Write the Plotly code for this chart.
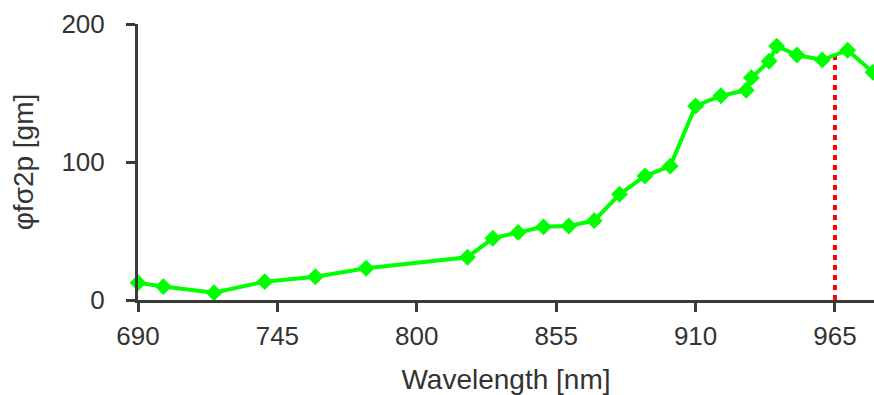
import plotly.graph_objects as go

wavelength = [690, 700, 720, 740, 760, 780, 820, 830, 840, 850, 860, 870, 880, 890, 900,
              910, 920, 930, 932, 939, 942, 950, 960, 970, 980]
brightness = [12.5, 9.7, 5.3, 13.3, 16.9, 23, 31, 44.7, 49, 53, 53.6, 57.5, 76.6, 89.9, 97,
              140.6, 148, 152, 161, 173, 184, 177.5, 174, 181, 165]
marker_wavelength = [965, 965]
marker_level = [0, 178.5]
x_ticks = [690, 745, 800, 855, 910, 965]
y_ticks = [0, 100, 200]

FONT = "Liberation Sans, Arial, sans-serif"
AXIS_COLOR = "#3a3a3a"
TEXT_COLOR = "#333333"

fig = go.Figure()
fig.add_trace(go.Scatter(
    x=marker_wavelength, y=marker_level, mode="lines",
    line=dict(color="#ff0000", width=4, dash="5px,5px"),
    hoverinfo="skip", showlegend=False,
))
fig.add_trace(go.Scatter(
    x=wavelength, y=brightness, mode="lines+markers",
    line=dict(color="#00ff00", width=4),
    marker=dict(symbol="diamond", size=13, color="#00ff00"),
    cliponaxis=False, showlegend=False,
))

fig.update_layout(
    width=874, height=395,
    margin=dict(l=138, r=0, t=24, b=95),
    paper_bgcolor="white", plot_bgcolor="white",
    font=dict(family=FONT, size=26, color=TEXT_COLOR),
)
fig.update_xaxes(
    range=[690, 980.4], tickvals=x_ticks, ticktext=[str(v) for v in x_ticks],
    showgrid=False, zeroline=False,
    showline=True, linecolor=AXIS_COLOR, linewidth=3,
    ticks="outside", ticklen=9, tickwidth=3, tickcolor=AXIS_COLOR,
    ticklabelstandoff=2,
    tickfont=dict(family=FONT, size=26, color=TEXT_COLOR),
    title=dict(text="Wavelength [nm]", font=dict(family=FONT, size=28, color=TEXT_COLOR), standoff=20),
)
fig.update_yaxes(
    range=[0, 200], tickvals=y_ticks, ticktext=[str(v) for v in y_ticks],
    showgrid=False, zeroline=False,
    showline=True, linecolor=AXIS_COLOR, linewidth=3,
    ticks="outside", ticklen=9, tickwidth=3, tickcolor=AXIS_COLOR,
    ticklabelstandoff=16,
    tickfont=dict(family=FONT, size=26, color=TEXT_COLOR),
    title=dict(text="φfσ2p [gm]", font=dict(family=FONT, size=28, color=TEXT_COLOR), standoff=20),
)

fig.write_html("out.html")
